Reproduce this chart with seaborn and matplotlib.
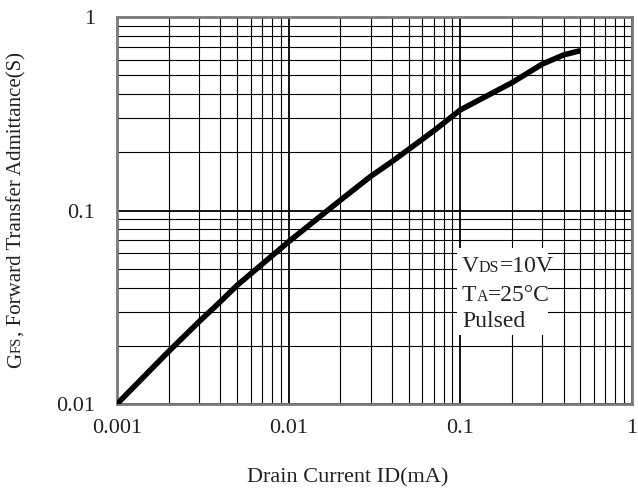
import matplotlib
matplotlib.use("Agg")
import matplotlib.pyplot as plt
import matplotlib.ticker as mticker
import seaborn as sns
import pandas as pd

# ---- data ----
drain_current_mA = [0.001, 0.002, 0.003, 0.004, 0.005, 0.01, 0.02, 0.03, 0.04, 0.05,
                    0.07, 0.1, 0.2, 0.3, 0.4, 0.5]
gfs_S = [0.0100, 0.0187, 0.0266, 0.0338, 0.041, 0.069, 0.113, 0.150, 0.179, 0.207,
         0.258, 0.331, 0.458, 0.571, 0.637, 0.670]
x_ticks = [0.001, 0.01, 0.1, 1]
x_tick_labels = ["0.001", "0.01", "0.1", "1"]
y_ticks = [0.01, 0.1, 1]
y_tick_labels = ["0.01", "0.1", "1"]

sns.set_style("white")
plt.rcParams["font.family"] = ["Liberation Serif", "DejaVu Serif"]

W, H = 638, 488
fig = plt.figure(figsize=(W / 100, H / 100), dpi=100)
ax = fig.add_axes([117 / W, 1 - 404 / H, (632 - 117) / W, (404 - 17) / H])

df = pd.DataFrame({"ID": drain_current_mA, "GFS": gfs_S})
sns.lineplot(data=df, x="ID", y="GFS", color="black", linewidth=4.0, ax=ax,
             zorder=5, sort=True, solid_joinstyle="round", solid_capstyle="butt")

ax.set_xscale("log")
ax.set_yscale("log")
ax.set_xlim(0.001, 1)
ax.set_ylim(0.01, 1)
ax.set_xticks(x_ticks)
ax.set_xticklabels(x_tick_labels)
ax.set_yticks(y_ticks)
ax.set_yticklabels(y_tick_labels)
ax.xaxis.set_minor_locator(mticker.LogLocator(base=10, subs=range(2, 10), numticks=20))
ax.yaxis.set_minor_locator(mticker.LogLocator(base=10, subs=range(2, 10), numticks=20))
ax.xaxis.set_minor_formatter(mticker.NullFormatter())
ax.yaxis.set_minor_formatter(mticker.NullFormatter())
ax.tick_params(axis="both", which="both", length=0, labelsize=16, colors="#222222")
ax.tick_params(axis="x", pad=11)
ax.tick_params(axis="y", pad=16)
ax.grid(True, which="major", color="black", linewidth=1.3)
ax.grid(True, which="minor", color="black", linewidth=0.8)
ax.set_axisbelow(True)
for s in ax.spines.values():
    s.set_color("#7a7a7a")
    s.set_linewidth(2.0)
ax.set_xlabel("")
ax.set_ylabel("")

# white box behind annotation
ax.add_patch(plt.Rectangle(((457 - 117) / 515, (404 - 335) / 387),
                           (548 - 457) / 515, (335 - 248) / 387,
                           transform=ax.transAxes, facecolor="white",
                           edgecolor="none", zorder=3))

fig.canvas.draw()
renderer = fig.canvas.get_renderer()


def chain(pieces, x0, y0, rotation=0, color="#222222"):
    """pieces: list of (text, size). x0, y0 in display pixels (from bottom-left)."""
    x, y = x0, y0
    for txt, size in pieces:
        t = fig.text(x / W, y / H, txt, fontsize=size, color=color,
                     rotation=rotation, rotation_mode="anchor",
                     ha="left", va="baseline", zorder=10)
        bb = t.get_window_extent(renderer)
        if rotation == 0:
            x += bb.width
        else:
            y += bb.height


def centered_chain(pieces, xc, yc_or_base, rotation=0):
    total = 0
    for txt, size in pieces:
        t = fig.text(0, 0, txt, fontsize=size, rotation=rotation, rotation_mode="anchor")
        bb = t.get_window_extent(renderer)
        total += bb.width if rotation == 0 else bb.height
        t.remove()
    if rotation == 0:
        chain(pieces, xc - total / 2, yc_or_base, rotation)
    else:
        chain(pieces, xc, yc_or_base - total / 2, rotation)


# x label
fig.text(348 / W, 1 - 478 / H, "Drain Current ID(mA)", fontsize=16,
         ha="center", va="center", color="#222222")

# y label (rotated)
centered_chain([("G", 15), ("FS", 10.5), (", Forward Transfer Admittance(S)", 15)],
               21, H - 210, rotation=90)

# annotation
big, small = 17, 11.5
chain([("V", big), ("DS", small), ("=10V", big)], 462, H - 272)
chain([("T", big), ("A", small), ("=25°C", big)], 462, H - 301)
chain([("Pulsed", big)], 462, H - 327)

fig.savefig("out.png", dpi=100)
